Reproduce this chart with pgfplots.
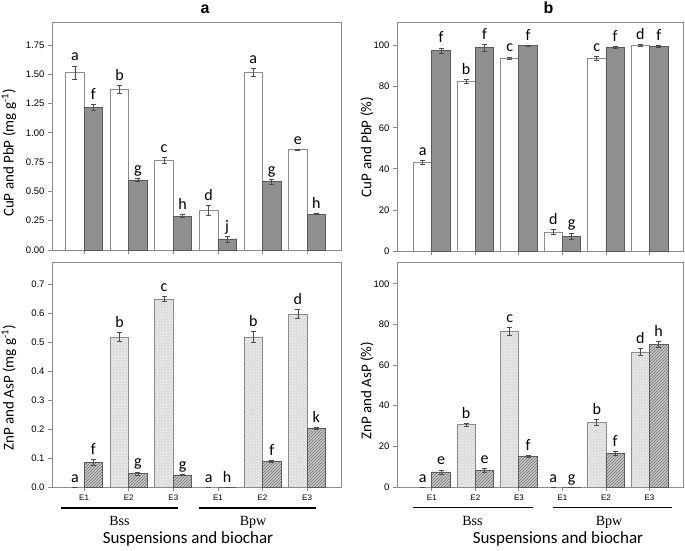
\documentclass[border=0pt]{standalone}
\usepackage{pgfplots}
\pgfplotsset{compat=1.18}
\usepackage{pgfplotstable}
\usetikzlibrary{patterns}
\usepackage{fontspec}
\setmainfont{Carlito}
\newfontfamily\arialf{Liberation Sans}
\newfontfamily\timesf{Liberation Serif}

\definecolor{framec}{HTML}{8C8C8C}
\definecolor{darkbar}{HTML}{8F8F8F}
\definecolor{darkedge}{HTML}{5A5A5A}
\definecolor{znfill}{HTML}{DCDCDC}
\definecolor{asfill}{HTML}{C8C8C8}
\definecolor{errc}{HTML}{4D4D4D}

% panel a
\pgfplotstableread{
x y e l
0.7925 1.515 0.057 a
1.7925 1.370 0.034 b
2.7925 0.763 0.026 c
3.7925 0.339 0.045 d
4.7925 1.515 0.036 a
5.7925 0.857 0.004 e
}\aW
\pgfplotstableread{
x y e l
1.2075 1.218 0.028 f
2.2075 0.598 0.012 g
3.2075 0.290 0.012 h
4.2075 0.094 0.025 j
5.2075 0.583 0.022 g
6.2075 0.307 0.004 h
}\aG
% panel b
\pgfplotstableread{
x y e l
0.7885 43.1 1.1 a
1.7885 82.6 1.1 b
2.7885 94.0 0.5 c
3.7885 9.1 1.2 d
4.7885 93.8 1.0 c
5.7885 100.2 0.4 d
}\bW
\pgfplotstableread{
x y e l
1.2115 97.6 1.3 f
2.2115 98.9 1.8 f
3.2115 100.0 0.2 f
4.2115 7.2 1.6 g
5.2115 99.2 0.5 f
6.2115 99.7 0.3 f
}\bG
% panel c
\pgfplotstableread{
x y e l
0.7925 0.000 0.000 a
1.7925 0.518 0.016 b
2.7925 0.649 0.008 c
3.7925 0.000 0.000 a
4.7925 0.518 0.020 b
5.7925 0.597 0.015 d
}\cZ
\pgfplotstableread{
x y e l
1.2075 0.086 0.010 f
2.2075 0.046 0.006 g
3.2075 0.041 0.002 g
4.2075 0.000 0.000 h
5.2075 0.0885 0.004 f
6.2075 0.203 0.004 k
}\cA
% panel d
\pgfplotstableread{
x y e l
0.7885 0.0 0.0 a
1.7885 30.6 0.7 b
2.7885 76.6 2.0 c
3.7885 0.0 0.0 a
4.7885 31.8 1.6 b
5.7885 66.4 1.6 d
}\dZ
\pgfplotstableread{
x y e l
1.2115 7.4 1.0 e
2.2115 8.2 0.9 e
3.2115 15.1 0.4 f
4.2115 0.0 0.0 g
5.2115 16.4 1.0 f
6.2115 70.0 1.5 h
}\dA

\pgfplotsset{
 panel/.style={scale only axis, anchor=south west, ymin=0, enlargelimits=false,
   axis line style={framec, line width=0.8pt},
   tick style={framec, line width=0.8pt}, tick align=outside, major tick length=4pt,
   xtick pos=bottom, ytick pos=left, xtick={1,2,3,4,5,6},
   ticklabel style={font=\arialf\fontsize{9.5}{11}\selectfont},
   /pgf/number format/assume math mode=true,
   ylabel style={font=\fontsize{15}{18}\selectfont, anchor=center},
   every axis title shift=0pt,
   title style={font=\arialf\bfseries\fontsize{16}{19}\selectfont, anchor=base, at={(axis description cs:0.53,1)}, yshift=8pt},
   clip=false},
 errs/.style={/pgfplots/error bars/y dir=both, /pgfplots/error bars/y explicit,
   /pgfplots/error bars/error bar style={errc, line width=0.7pt},
   /pgfplots/error bars/error mark options={rotate=90, errc, mark size=2.5pt, line width=0.7pt}},
 labs/.style={draw=none, mark=none, nodes near coords, point meta=explicit symbolic,
   nodes near coords style={anchor=base, yshift=5pt, inner sep=0pt, font=\fontsize{16}{19}\selectfont, text=black}},
}

\begin{document}
\begin{tikzpicture}
\useasboundingbox (0,0) rectangle (685pt,550pt);

% ---------- a ----------
\begin{axis}[panel, at={(52pt,300pt)}, width=289pt, height=228pt,
  xmin=0.28, xmax=6.76, ymax=1.947, xticklabels={},
  ytick={0,0.25,0.5,0.75,1,1.25,1.5,1.75},
  yticklabel style={/pgf/number format/.cd, fixed, fixed zerofill, precision=2},
  ylabel={CuP and PbP (mg g\textsuperscript{-1})},
  ylabel style={at={(axis description cs:-0.149,0.425)}},
  title={a}]
\addplot[ybar, bar width=0.415, bar shift=0pt, fill=white, draw=framec, line width=0.8pt, errs] table[x=x, y=y, y error=e] {\aW};
\addplot[ybar, bar width=0.415, bar shift=0pt, fill=darkbar, draw=darkedge, line width=0.8pt, errs] table[x=x, y=y, y error=e] {\aG};
\addplot[labs] table[x=x, y expr=\thisrow{y}+\thisrow{e}, meta=l] {\aW};
\addplot[labs] table[x=x, y expr=\thisrow{y}+\thisrow{e}, meta=l] {\aG};
\end{axis}

% ---------- b ----------
\begin{axis}[panel, at={(397pt,299pt)}, width=286pt, height=229pt,
  xmin=0.2, xmax=6.77, ymax=111.5, xticklabels={},
  ytick={0,20,40,60,80,100},
  ylabel={CuP and PbP (\%)},
  ylabel style={at={(axis description cs:-0.105,0.454)}},
  title={b}]
\addplot[ybar, bar width=0.423, bar shift=0pt, fill=white, draw=framec, line width=0.8pt, errs] table[x=x, y=y, y error=e] {\bW};
\addplot[ybar, bar width=0.423, bar shift=0pt, fill=darkbar, draw=darkedge, line width=0.8pt, errs] table[x=x, y=y, y error=e] {\bG};
\addplot[labs] table[x=x, y expr=\thisrow{y}+\thisrow{e}, meta=l] {\bW};
\addplot[labs] table[x=x, y expr=\thisrow{y}+\thisrow{e}, meta=l] {\bG};
\end{axis}

% ---------- c ----------
\begin{axis}[panel, at={(52pt,63pt)}, width=289pt, height=225pt,
  xmin=0.28, xmax=6.76, ymax=0.777,
  xticklabels={E1,E2,E3,E1,E2,E3},
  xticklabel style={font=\arialf\fontsize{8}{10}\selectfont},
  ytick={0,0.1,0.2,0.3,0.4,0.5,0.6,0.7},
  yticklabel style={/pgf/number format/.cd, fixed, fixed zerofill, precision=1},
  ylabel={ZnP and AsP (mg g\textsuperscript{-1})},
  ylabel style={at={(axis description cs:-0.149,0.44)}}]
\addplot[ybar, bar width=0.415, bar shift=0pt, fill=znfill, draw=framec, line width=0.8pt,
  postaction={pattern=crosshatch dots, pattern color=white}, errs] table[x=x, y=y, y error=e] {\cZ};
\addplot[ybar, bar width=0.415, bar shift=0pt, fill=asfill, draw=darkedge, line width=0.8pt,
  postaction={pattern=north east lines, pattern color=black!55}, errs] table[x=x, y=y, y error=e] {\cA};
\addplot[labs] table[x=x, y expr=\thisrow{y}+\thisrow{e}, meta=l] {\cZ};
\addplot[labs] table[x=x, y expr=\thisrow{y}+\thisrow{e}, meta=l] {\cA};
\end{axis}

% ---------- d ----------
\begin{axis}[panel, at={(397pt,63pt)}, width=286pt, height=225pt,
  xmin=0.2, xmax=6.77, ymax=110.7,
  xticklabels={E1,E2,E3,E1,E2,E3},
  xticklabel style={font=\arialf\fontsize{8}{10}\selectfont},
  ytick={0,20,40,60,80,100},
  ylabel={ZnP and AsP (\%)},
  ylabel style={at={(axis description cs:-0.105,0.427)}}]
\addplot[ybar, bar width=0.423, bar shift=0pt, fill=znfill, draw=framec, line width=0.8pt,
  postaction={pattern=crosshatch dots, pattern color=white}, errs] table[x=x, y=y, y error=e] {\dZ};
\addplot[ybar, bar width=0.423, bar shift=0pt, fill=asfill, draw=darkedge, line width=0.8pt,
  postaction={pattern=north east lines, pattern color=black!55}, errs] table[x=x, y=y, y error=e] {\dA};
\addplot[labs] table[x=x, y expr=\thisrow{y}+\thisrow{e}, meta=l] {\dZ};
\addplot[labs] table[x=x, y expr=\thisrow{y}+\thisrow{e}, meta=l] {\dA};
\end{axis}

% group annotations
\draw[line width=1.2pt] (61pt,42pt) -- (178pt,42pt);
\draw[line width=1.2pt] (199pt,42pt) -- (316pt,42pt);
\draw[line width=1.2pt] (412.7pt,42.7pt) -- (532.7pt,42.7pt);
\draw[line width=1.2pt] (553pt,42.7pt) -- (671.7pt,42.7pt);
\node[font=\timesf\fontsize{14}{16}\selectfont, anchor=base] at (119.5pt,25pt) {Bss};
\node[font=\timesf\fontsize{14}{16}\selectfont, anchor=base] at (253pt,25pt) {Bpw};
\node[font=\timesf\fontsize{14}{16}\selectfont, anchor=base] at (472.5pt,25pt) {Bss};
\node[font=\timesf\fontsize{14}{16}\selectfont, anchor=base] at (609pt,25pt) {Bpw};
\node[font=\fontsize{17}{20}\selectfont, anchor=base] at (188pt,7pt) {Suspensions and biochar};
\node[font=\fontsize{17}{20}\selectfont, anchor=base] at (558pt,7pt) {Suspensions and biochar};
\end{tikzpicture}
\end{document}
